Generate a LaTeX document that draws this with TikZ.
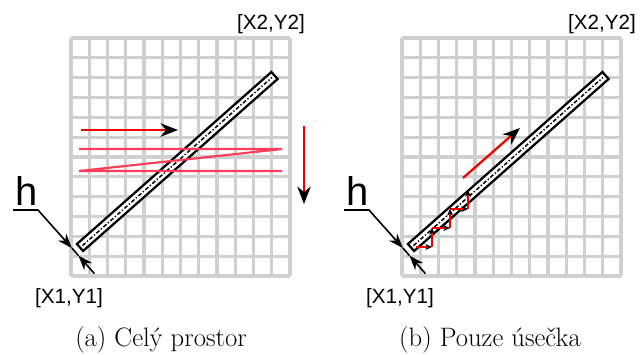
\documentclass[tikz,border=0pt]{standalone}
\usepackage{fontspec}
\newfontfamily\labfont{Liberation Sans}
\usetikzlibrary{arrows.meta}
\definecolor{gridgray}{RGB}{208,208,208}
\definecolor{zigred}{RGB}{255,60,90}
\definecolor{arrred}{RGB}{240,0,0}
\newcommand\panelbase[1]{%
  \foreach \i in {0,...,12}{
    \draw[gridl] ({71+\i*18.25},38) -- ({71+\i*18.25},276);
    \draw[gridl] (71,{38+\i*19.833}) -- (290,{38+\i*19.833});
  }
  \draw[barbox] (83.1,251) -- (76.9,244) -- (271.4,72) -- (277.6,79) -- cycle;
  \draw[axisl] (82.5,245.6) -- (272,77.4);
  \node[hlab] (#1h) at (26.5,205) {h};
  \coordinate (#1u0) at (13,210);
  \coordinate (#1u1) at (38,210);
  \coordinate (#1t1) at (71.9,248.1);
  \coordinate (#1t2) at (78.5,255.6);
  \coordinate (#1t3) at (94.4,273.6);
  \draw[dim,dimtip] (#1u0) -- (#1u1) -- (#1t1);
  \draw[dim] (#1t1) -- (#1t2);
  \draw[dim,dimtip] (#1t3) -- (#1t2);
  \node[coordlab] (#1xy2) at (271,29) {[X2,Y2]};
  \node[coordlab] (#1xy1) at (69,303) {[X1,Y1]};
}
\begin{document}
\begin{tikzpicture}[x=0.75pt,y=-0.75pt,
 gridl/.style={draw=gridgray,line width=2.4pt},
 barbox/.style={draw=black,line width=1.7pt,fill=white,line join=miter},
 axisl/.style={black,line width=1.1pt,dash pattern=on 3pt off 1.5pt on 1pt off 1.5pt},
 zig/.style={draw=zigred,line width=1.6pt},
 redarr/.style={draw=arrred,line width=1.7pt,-{Stealth[length=13pt,width=10pt,inset=4pt,color=black]}},
 stair/.style={draw=arrred,line width=0.8pt,-{Stealth[length=5pt,width=4.5pt,inset=1.5pt,color=black]}},
 dim/.style={draw=black,line width=1.2pt},
 dimtip/.style={-{Stealth[length=11pt,width=8pt,inset=3.5pt]}},
 coordlab/.style={font=\labfont\fontsize{15.5}{18}\selectfont,inner sep=0pt,anchor=base},
 hlab/.style={font=\labfont\fontsize{30}{36}\selectfont,inner sep=0pt,anchor=base},
 caplab/.style={font=\fontsize{20}{24}\selectfont,inner sep=0pt,anchor=base}]
\useasboundingbox (0,0) rectangle (640,354);
% panel (a)
\panelbase{a}
\draw[zig,line join=miter] (79,149) -- (282,149) -- (79,171) -- (282,171);
\coordinate (ra0) at (81,130); \coordinate (ra1) at (178,130);
\draw[redarr] (ra0) -- (ra1);
\coordinate (rv0) at (304,126); \coordinate (rv1) at (304,204);
\draw[redarr] (rv0) -- (rv1);
\node[caplab] (capa) at (161,346) {(a) Celý prostor};
% panel (b)
\begin{scope}[shift={(331,0)}]
\panelbase{b}
\end{scope}
\coordinate (s0) at (416,247); \coordinate (s1) at (432,247);
\coordinate (s2) at (432,228); \coordinate (s3) at (450,228);
\coordinate (s4) at (450,209); \coordinate (s5) at (468,209);
\coordinate (s6) at (468,190);
\draw[stair] (s0) -- (s1);
\draw[stair] (s1) -- (s2);
\draw[stair] (s2) -- (s3);
\draw[stair] (s3) -- (s4);
\draw[stair] (s4) -- (s5);
\draw[stair] (s5) -- (s6);
\coordinate (rb0) at (463,178); \coordinate (rb1) at (520,128);
\draw[redarr] (rb0) -- (rb1);
\node[caplab] (capb) at (490,346) {(b) Pouze úsečka};
\end{tikzpicture}
\end{document}
